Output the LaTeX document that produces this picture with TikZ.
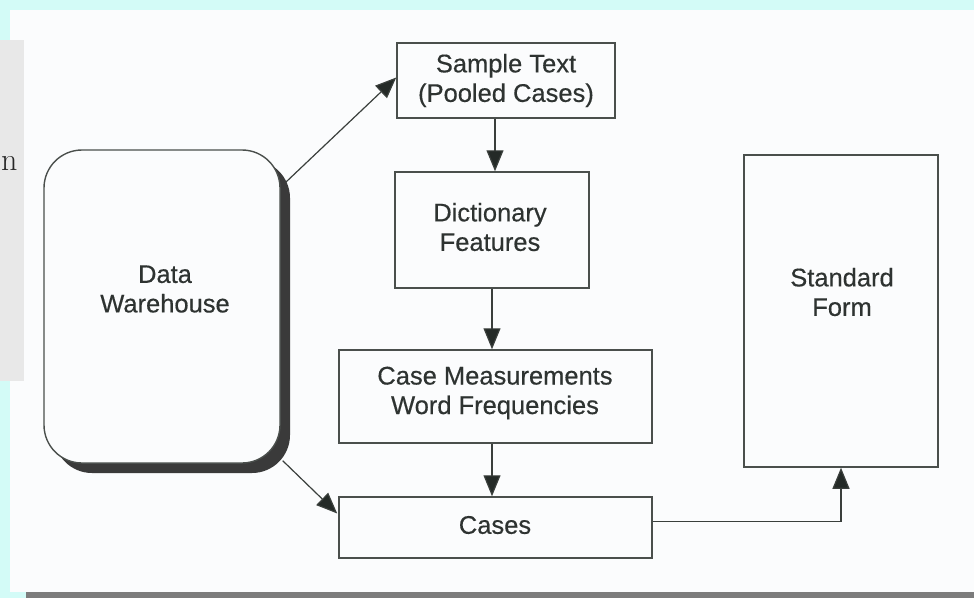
\documentclass[tikz,border=0pt]{standalone}
\usepackage{fontspec}
\newfontfamily\diagfont[FakeBold=0.4]{Liberation Sans}
\usetikzlibrary{arrows.meta,calc}

\definecolor{pagecyan}{HTML}{D3FBF7}
\definecolor{paper}{HTML}{FBFCFD}
\definecolor{bargray}{HTML}{7C7C7C}
\definecolor{panelgray}{HTML}{E8E8E8}
\definecolor{boxline}{HTML}{4A4F4C}
\definecolor{inkline}{HTML}{3A3F3C}
\definecolor{tipink}{HTML}{242A27}
\definecolor{labelink}{HTML}{2E3331}
\definecolor{shadowgray}{HTML}{3A3A3A}

\tikzset{
  procbox/.style={draw=boxline, line width=1.5pt, fill=paper, inner sep=0pt,
    minimum width=#1},
  lbl/.style={font=\diagfont\fontsize{25.5}{29.5}\selectfont, text=labelink,
    align=center, inner sep=0pt},
  flow/.style={draw=inkline, line width=1.2pt,
    -{Triangle[length=21pt,width=17pt,fill=tipink]}},
}

\begin{document}
\begin{tikzpicture}[x=1pt,y=-1pt]
\useasboundingbox (0,0) rectangle (974,598);

% page surroundings
\fill[pagecyan] (0,0) rectangle (974,598);
\fill[paper] (10,10) rectangle (974,592);
\fill[bargray] (26,592) rectangle (974,598);
\fill[panelgray] (0,40) rectangle (24,381);
\node[anchor=base west, inner sep=0pt, font=\fontsize{32}{36}\selectfont,
  text=black!85] (ncut) at (1,170) {n};

% data warehouse store with its drop shadow
\fill[shadowgray, rounded corners=38pt] (54,160) rectangle (290,473);
\node[draw=boxline, line width=1.4pt, fill=paper, rounded corners=38pt,
  minimum width=236pt, minimum height=313pt, inner sep=0pt] (dw) at (162,306.5) {};
\node[lbl] (dwtext) at (165,289) {Data\\Warehouse};

% process boxes
\node[procbox=218pt, minimum height=75pt] (sample) at (506,80.5) {};
\node[lbl] at (sample.center) {Sample Text\\(Pooled Cases)};

\node[procbox=194pt, minimum height=116pt] (dict) at (492,230) {};
\node[lbl] at (490,227) {Dictionary\\Features};

\node[procbox=313pt, minimum height=93pt] (cm) at (495.5,396.5) {};
\node[lbl] at (495,393) {Case Measurements\\Word Frequencies};

\node[procbox=313pt, minimum height=61pt] (cases) at (495.5,527.5) {};
\node[lbl] at (495,525) {Cases};

\node[procbox=194pt, minimum height=312pt] (sf) at (841,311) {};
\node[lbl] (sftext) at (842,292) {Standard\\Form};

% connectors
\coordinate (dwout1) at ($(dw.north east)+(5,33)$);
\coordinate (dwout2) at ($(dw.south east)+(2,-3)$);
\draw[flow] (dwout1) -- ($(sample.west)+(0,-3)$);
\draw[flow] (dwout2) -- ($(cases.west)+(-1,-14)$);
\draw[flow] (sample.south -| 495,0) -- (dict.north -| 495,0);
\draw[flow] (dict.south) -- (cm.north -| dict.south);
\draw[flow] (cm.south -| dict.south) -- (cases.north -| dict.south);
\draw[flow] ($(cases.east)+(0,-6)$) -| (sf.south);
\end{tikzpicture}
\end{document}
